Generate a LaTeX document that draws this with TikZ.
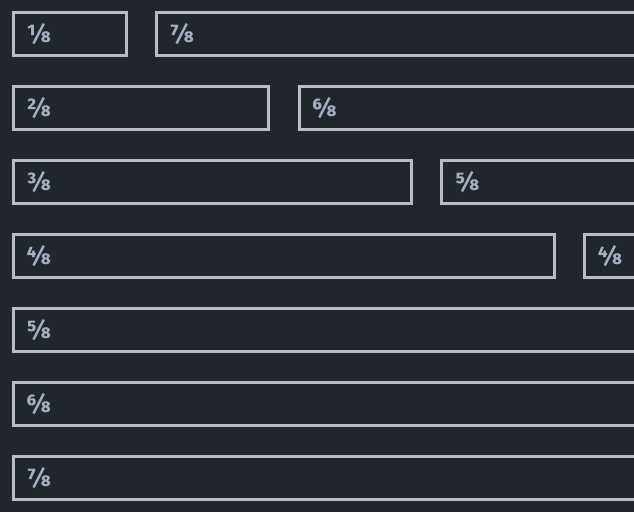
\documentclass[tikz,border=0pt]{standalone}
\usepackage{fontspec}
\setmainfont{Fira Sans}
\newfontfamily\fracfont{Fira Sans}[Fractions=On]
\usepackage{xcolor}
\usetikzlibrary{positioning}

\definecolor{bgdark}{HTML}{21252C}
\definecolor{barline}{HTML}{B8BCC3}
\definecolor{fractext}{HTML}{A6AFBF}

\tikzset{
  bar/.style={draw=barline, line width=3pt, inner sep=0pt, outer sep=0pt,
    minimum height=43pt, anchor=north west},
  frac/.style={text=fractext, inner sep=0pt, anchor=north west,
    font=\fracfont\bfseries\fontsize{25}{25}\selectfont}
}

\begin{document}
\begin{tikzpicture}[x=1pt,y=-1pt]
  \useasboundingbox (0,0) rectangle (634,512);
  \fill[bgdark] (0,0) rectangle (634,512);
  \clip (0,0) rectangle (634,512);
  % left bars, one per row, width n/8
  \foreach \n in {1,...,7}{
    \node[bar, minimum width={142.7*\n-30}] (left\n) at (13.5,{74*(\n-1)+12.8}) {};
    \node[frac] (lab\n) at ([xshift=13pt,yshift=-10.5pt]left\n.north west) {\n/8};
  }
  % right bars, the rest of the row
  \foreach \n/\m in {1/7,2/6,3/5,4/4}{
    \node[bar, minimum width={142.7*\m-30}, right=30.3pt of left\n.north east, anchor=north west] (right\n) {};
    \node[frac] (rlab\n) at ([xshift=13pt,yshift=-10.5pt]right\n.north west) {\m/8};
  }
\end{tikzpicture}
\end{document}
